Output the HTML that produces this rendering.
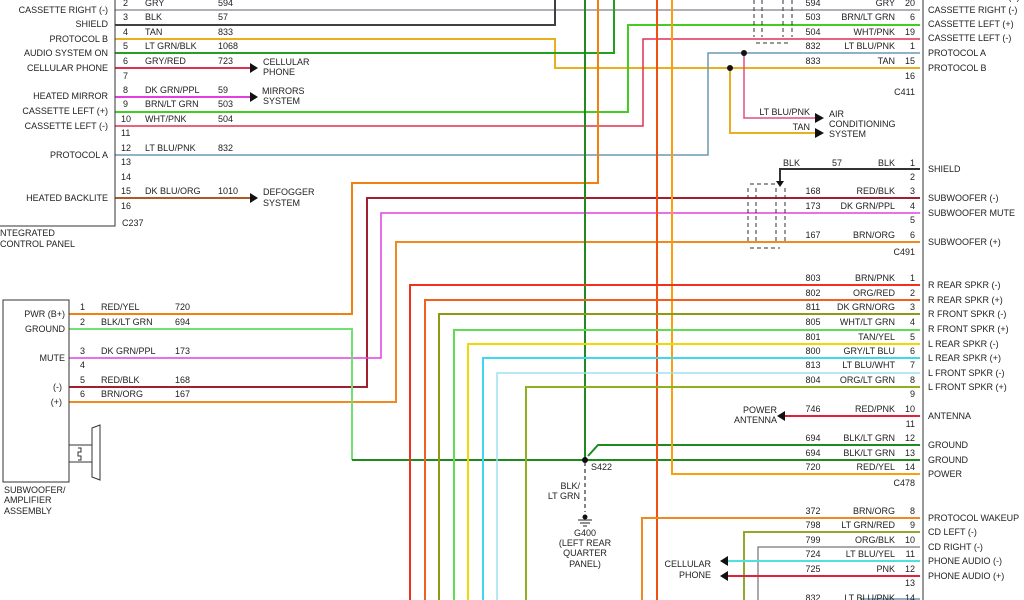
<!DOCTYPE html>
<html><head><meta charset="utf-8"><style>
html,body{margin:0;padding:0;background:#fff;}
svg{display:block;}
text{font-family:"Liberation Sans",sans-serif;font-size:9px;fill:#222;}
.r{text-anchor:end;}
.m{text-anchor:middle;}
</style></head><body>
<svg width="1024" height="600" viewBox="0 0 1024 600" xmlns="http://www.w3.org/2000/svg">
<g fill="none" stroke-width="2" stroke-linejoin="miter">
<path d="M115,10H920" stroke="#b0b0b8"/>
<path d="M115,25H555V0" stroke="#404040"/>
<path d="M115,39H555V68H920" stroke="#e8b020"/>
<path d="M730,68V133H815" stroke="#e8b020"/>
<path d="M115,53H614V0" stroke="#22a022"/>
<path d="M115,68H250" stroke="#e03050"/>
<path d="M115,97H250" stroke="#e040e0"/>
<path d="M115,112H628V25H920" stroke="#44cc22"/>
<path d="M115,126H643V39H920" stroke="#e03050" stroke-width="1.5"/>
<path d="M115,155H708V53H920" stroke="#6a9ab0" stroke-width="1.5"/>
<path d="M744,53V118H815" stroke="#e05080" stroke-width="1.5"/>
<path d="M115,198H250" stroke="#b05828"/>
<path d="M598,0V183H352V314H69" stroke="#f08010"/>
<path d="M920,198H367V387H69" stroke="#a02030"/>
<path d="M920,213H381V358H69" stroke="#e040e0" stroke-width="1.5"/>
<path d="M920,242H396V402H69" stroke="#f08a20"/>
<path d="M69,329H352V460" stroke="#70e070"/>
<path d="M352,460H920" stroke="#208a20"/>
<path d="M588,456L598,445H920" stroke="#208a20"/>
<path d="M585,0V460" stroke="#208a20"/>
<path d="M585,462V512" stroke="#333" stroke-width="1.2" stroke-dasharray="4,3"/>
<path d="M657,0V600" stroke="#f05010"/>
<path d="M672,0V474H920" stroke="#f8a010"/>
<path d="M410,600V285H920" stroke="#f03020"/>
<path d="M425,600V300H920" stroke="#f06020"/>
<path d="M439,600V314H920" stroke="#909a10"/>
<path d="M454,600V330H920" stroke="#60dd50"/>
<path d="M468,600V344H920" stroke="#f0d800"/>
<path d="M483,600V358H920" stroke="#40d8f0"/>
<path d="M497,600V373H920" stroke="#a0e0f0" stroke-width="1.5"/>
<path d="M526,600V387H920" stroke="#90b020"/>
<path d="M920,416H785" stroke="#e02040"/>
<path d="M920,169H780V181" stroke="#333"/>
<path d="M642,600V518H920" stroke="#f08a20"/>
<path d="M744,600V532H920" stroke="#90a830"/>
<path d="M758,600V547H920" stroke="#555" stroke-width="1"/>
<path d="M920,561H728" stroke="#50e0e0"/>
<path d="M920,576H728" stroke="#e02040"/>
<path d="M920,599H860" stroke="#6a9ab0" stroke-width="1.5"/>
<path d="M923,0V600" stroke="#333" stroke-width="1"/>
<path d="M115,0V226H0" stroke="#333" stroke-width="1"/>
<rect x="3" y="300" width="66" height="182" stroke="#333" stroke-width="1"/>
<path d="M69,445H92V428L100,425V480L92,477V462" stroke="#333" stroke-width="1"/>
<path d="M92,445V462M69,462H92" stroke="#333" stroke-width="1"/>
<path d="M78,448h3v4h-3v4h3v4h-3" stroke="#333" stroke-width="1"/>
<g stroke="#333" stroke-width="1" stroke-dasharray="4,3">
<path d="M754,0V37M762,0V37M783,0V37M792,0V37M756,43H788"/>
<path d="M748,188V244M756,188V244M776,188V244M785,188V244M750,184H778M750,248H780"/>
</g>
</g>
<g fill="#111">
<polygon points="250,63 258,68 250,73"/>
<polygon points="250,92 258,97 250,102"/>
<polygon points="250,193 258,198 250,203"/>
<polygon points="815,113 824,118 815,123"/>
<polygon points="815,128 824,133 815,138"/>
<polygon points="785,411 777,416 785,421"/>
<polygon points="776,181 784,181 780,187"/>
<polygon points="728,556 720,561 728,566"/>
<polygon points="728,571 720,576 728,581"/>
<circle cx="730" cy="68" r="3"/>
<circle cx="744" cy="53" r="3"/>
<circle cx="585" cy="460" r="3"/>
<circle cx="585" cy="517" r="2.5"/>
</g>
<path d="M578,520h14M580,523h10M583,526h4" stroke="#222" stroke-width="1"/>
<g>
<text x="108" y="13" class="r">CASSETTE RIGHT (-)</text>
<text x="108" y="27" class="r">SHIELD</text>
<text x="108" y="42" class="r">PROTOCOL B</text>
<text x="108" y="56" class="r">AUDIO SYSTEM ON</text>
<text x="108" y="71" class="r">CELLULAR PHONE</text>
<text x="108" y="99" class="r">HEATED MIRROR</text>
<text x="108" y="114" class="r">CASSETTE LEFT (+)</text>
<text x="108" y="129" class="r">CASSETTE LEFT (-)</text>
<text x="108" y="158" class="r">PROTOCOL A</text>
<text x="108" y="201" class="r">HEATED BACKLITE</text>
<text x="0" y="236">NTEGRATED</text>
<text x="0" y="247">CONTROL PANEL</text>
<text x="123" y="6">2</text><text x="145" y="6">GRY</text><text x="218" y="6">594</text>
<text x="123" y="20">3</text><text x="145" y="20">BLK</text><text x="218" y="20">57</text>
<text x="123" y="35">4</text><text x="145" y="35">TAN</text><text x="218" y="35">833</text>
<text x="123" y="49">5</text><text x="145" y="49">LT GRN/BLK</text><text x="218" y="49">1068</text>
<text x="123" y="64">6</text><text x="145" y="64">GRY/RED</text><text x="218" y="64">723</text>
<text x="123" y="79">7</text>
<text x="123" y="93">8</text><text x="145" y="93">DK GRN/PPL</text><text x="218" y="93">59</text>
<text x="123" y="107">9</text><text x="145" y="107">BRN/LT GRN</text><text x="218" y="107">503</text>
<text x="121" y="122">10</text><text x="145" y="122">WHT/PNK</text><text x="218" y="122">504</text>
<text x="121" y="136">11</text>
<text x="121" y="151">12</text><text x="145" y="151">LT BLU/PNK</text><text x="218" y="151">832</text>
<text x="121" y="165">13</text>
<text x="121" y="180">14</text>
<text x="121" y="194">15</text><text x="145" y="194">DK BLU/ORG</text><text x="218" y="194">1010</text>
<text x="121" y="209">16</text>
<text x="122" y="226">C237</text>
<text x="263" y="65">CELLULAR</text><text x="263" y="75">PHONE</text>
<text x="262" y="94">MIRRORS</text><text x="263" y="104">SYSTEM</text>
<text x="263" y="195">DEFOGGER</text><text x="263" y="206">SYSTEM</text>
</g>
<g>
<text x="65" y="317" class="r">PWR (B+)</text>
<text x="65" y="332" class="r">GROUND</text>
<text x="65" y="361" class="r">MUTE</text>
<text x="62" y="390" class="r">(-)</text>
<text x="62" y="405" class="r">(+)</text>
<text x="80" y="310">1</text><text x="101" y="310">RED/YEL</text><text x="175" y="310">720</text>
<text x="80" y="325">2</text><text x="101" y="325">BLK/LT GRN</text><text x="175" y="325">694</text>
<text x="80" y="354">3</text><text x="101" y="354">DK GRN/PPL</text><text x="175" y="354">173</text>
<text x="80" y="368">4</text>
<text x="80" y="383">5</text><text x="101" y="383">RED/BLK</text><text x="175" y="383">168</text>
<text x="80" y="397">6</text><text x="101" y="397">BRN/ORG</text><text x="175" y="397">167</text>
<text x="4" y="493">SUBWOOFER/</text><text x="4" y="503">AMPLIFIER</text><text x="4" y="514">ASSEMBLY</text>
</g>
<text x="591" y="470">S422</text>
<text x="580" y="489" class="r">BLK/</text>
<text x="580" y="499" class="r">LT GRN</text>
<text x="585" y="536" class="m">G400</text>
<text x="585" y="546" class="m">(LEFT REAR</text>
<text x="585" y="556" class="m">QUARTER</text>
<text x="585" y="567" class="m">PANEL)</text>
<text x="810" y="115" class="r">LT BLU/PNK</text>
<text x="810" y="130" class="r">TAN</text>
<text x="829" y="117">AIR</text><text x="829" y="127">CONDITIONING</text><text x="829" y="137">SYSTEM</text>
<text x="777" y="413" class="r">POWER</text><text x="777" y="423" class="r">ANTENNA</text>
<text x="711" y="567" class="r">CELLULAR</text><text x="711" y="578" class="r">PHONE</text>
<text x="783" y="166">BLK</text><text x="832" y="166">57</text>
<g>
<text x="813" y="6" class="m">594</text><text x="895" y="6" class="r">GRY</text><text x="915" y="6" class="r">20</text>
<text x="813" y="20" class="m">503</text><text x="895" y="20" class="r">BRN/LT GRN</text><text x="915" y="20" class="r">6</text>
<text x="813" y="35" class="m">504</text><text x="895" y="35" class="r">WHT/PNK</text><text x="915" y="35" class="r">19</text>
<text x="813" y="49" class="m">832</text><text x="895" y="49" class="r">LT BLU/PNK</text><text x="915" y="49" class="r">1</text>
<text x="813" y="64" class="m">833</text><text x="895" y="64" class="r">TAN</text><text x="915" y="64" class="r">15</text>
<text x="915" y="79" class="r">16</text>
<text x="915" y="95" class="r">C411</text>
<text x="895" y="166" class="r">BLK</text><text x="915" y="166" class="r">1</text>
<text x="915" y="180" class="r">2</text>
<text x="813" y="194" class="m">168</text><text x="895" y="194" class="r">RED/BLK</text><text x="915" y="194" class="r">3</text>
<text x="813" y="209" class="m">173</text><text x="895" y="209" class="r">DK GRN/PPL</text><text x="915" y="209" class="r">4</text>
<text x="915" y="223" class="r">5</text>
<text x="813" y="238" class="m">167</text><text x="895" y="238" class="r">BRN/ORG</text><text x="915" y="238" class="r">6</text>
<text x="915" y="255" class="r">C491</text>
<text x="813" y="281" class="m">803</text><text x="895" y="281" class="r">BRN/PNK</text><text x="915" y="281" class="r">1</text>
<text x="813" y="296" class="m">802</text><text x="895" y="296" class="r">ORG/RED</text><text x="915" y="296" class="r">2</text>
<text x="813" y="310" class="m">811</text><text x="895" y="310" class="r">DK GRN/ORG</text><text x="915" y="310" class="r">3</text>
<text x="813" y="325" class="m">805</text><text x="895" y="325" class="r">WHT/LT GRN</text><text x="915" y="325" class="r">4</text>
<text x="813" y="340" class="m">801</text><text x="895" y="340" class="r">TAN/YEL</text><text x="915" y="340" class="r">5</text>
<text x="813" y="354" class="m">800</text><text x="895" y="354" class="r">GRY/LT BLU</text><text x="915" y="354" class="r">6</text>
<text x="813" y="368" class="m">813</text><text x="895" y="368" class="r">LT BLU/WHT</text><text x="915" y="368" class="r">7</text>
<text x="813" y="383" class="m">804</text><text x="895" y="383" class="r">ORG/LT GRN</text><text x="915" y="383" class="r">8</text>
<text x="915" y="397" class="r">9</text>
<text x="813" y="412" class="m">746</text><text x="895" y="412" class="r">RED/PNK</text><text x="915" y="412" class="r">10</text>
<text x="915" y="427" class="r">11</text>
<text x="813" y="441" class="m">694</text><text x="895" y="441" class="r">BLK/LT GRN</text><text x="915" y="441" class="r">12</text>
<text x="813" y="456" class="m">694</text><text x="895" y="456" class="r">BLK/LT GRN</text><text x="915" y="456" class="r">13</text>
<text x="813" y="470" class="m">720</text><text x="895" y="470" class="r">RED/YEL</text><text x="915" y="470" class="r">14</text>
<text x="915" y="486" class="r">C478</text>
<text x="813" y="514" class="m">372</text><text x="895" y="514" class="r">BRN/ORG</text><text x="915" y="514" class="r">8</text>
<text x="813" y="528" class="m">798</text><text x="895" y="528" class="r">LT GRN/RED</text><text x="915" y="528" class="r">9</text>
<text x="813" y="543" class="m">799</text><text x="895" y="543" class="r">ORG/BLK</text><text x="915" y="543" class="r">10</text>
<text x="813" y="557" class="m">724</text><text x="895" y="557" class="r">LT BLU/YEL</text><text x="915" y="557" class="r">11</text>
<text x="813" y="572" class="m">725</text><text x="895" y="572" class="r">PNK</text><text x="915" y="572" class="r">12</text>
<text x="915" y="586" class="r">13</text>
<text x="813" y="601" class="m">832</text><text x="895" y="601" class="r">LT BLU/PNK</text><text x="915" y="601" class="r">14</text>
</g>
<g>
<text x="928" y="0">CASSETTE RIGHT (+)</text>
<text x="928" y="13">CASSETTE RIGHT (-)</text>
<text x="928" y="27">CASSETTE LEFT (+)</text>
<text x="928" y="41">CASSETTE LEFT (-)</text>
<text x="928" y="56">PROTOCOL A</text>
<text x="928" y="71">PROTOCOL B</text>
<text x="928" y="172">SHIELD</text>
<text x="928" y="201">SUBWOOFER (-)</text>
<text x="928" y="216">SUBWOOFER MUTE</text>
<text x="928" y="245">SUBWOOFER (+)</text>
<text x="928" y="288">R REAR SPKR (-)</text>
<text x="928" y="303">R REAR SPKR (+)</text>
<text x="928" y="317">R FRONT SPKR (-)</text>
<text x="928" y="332">R FRONT SPKR (+)</text>
<text x="928" y="347">L REAR SPKR (-)</text>
<text x="928" y="361">L REAR SPKR (+)</text>
<text x="928" y="376">L FRONT SPKR (-)</text>
<text x="928" y="390">L FRONT SPKR (+)</text>
<text x="928" y="419">ANTENNA</text>
<text x="928" y="448">GROUND</text>
<text x="928" y="463">GROUND</text>
<text x="928" y="477">POWER</text>
<text x="928" y="521">PROTOCOL WAKEUP</text>
<text x="928" y="535">CD LEFT (-)</text>
<text x="928" y="550">CD RIGHT (-)</text>
<text x="928" y="564">PHONE AUDIO (-)</text>
<text x="928" y="579">PHONE AUDIO (+)</text>
</g>
</svg>
</body></html>
